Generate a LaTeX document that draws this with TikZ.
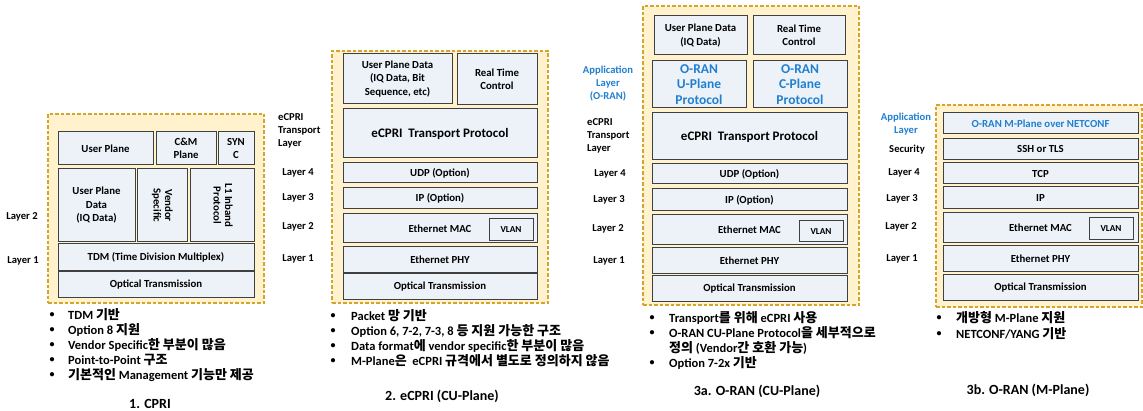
\documentclass[tikz,border=0pt]{standalone}
\usepackage{fontspec}
\usepackage{graphicx}
\setmainfont{Carlito}
\newfontfamily\kr{Noto Sans CJK KR}[Scale=1.04]
\newcommand{\K}[1]{{\kr #1}}
\definecolor{ybg}{HTML}{FFF2CC}
\definecolor{ybd}{HTML}{D4A52A}
\definecolor{bbg}{HTML}{EDF2F9}
\definecolor{bbd}{HTML}{404040}
\definecolor{oblue}{HTML}{1F7FD0}
\newcommand{\rb}[7][box]{\node[#1,minimum width={(#5-#3)*1pt},minimum height={(#6-#4)*1pt}] (#2) at ({(#3+#5)/2},{(#4+#6)/2}) {#7};}
\tikzset{
  frame/.style={draw=ybd, fill=ybg, dash pattern=on 3.5pt off 2pt, line width=1.2pt, inner sep=0, outer sep=0},
  box/.style={draw=bbd, fill=bbg, line width=1pt, inner sep=0, outer sep=0, align=center, font=\bfseries\fontsize{10.8}{13.5}\selectfont},
  bigbox/.style={box, font=\bfseries\fontsize{13}{15}\selectfont},
  blubox/.style={box, text=oblue, font=\bfseries\fontsize{13.5}{15.5}\selectfont},
  smallbox/.style={box, font=\bfseries\fontsize{9.2}{11}\selectfont},
  lbl/.style={font=\bfseries\fontsize{10.6}{13}\selectfont, align=center, inner sep=0},
  lbll/.style={lbl, align=left, anchor=west},
  blu/.style={lbl, text=oblue},
  bul/.style={anchor=west, inner sep=0, font=\bfseries\fontsize{12.5}{15}\selectfont, align=left},
  bdot/.style={inner sep=0, font=\bfseries\fontsize{10}{12}\selectfont},
  ttl/.style={inner sep=0, font=\bfseries\fontsize{14}{16}\selectfont}
}
\begin{document}
\begin{tikzpicture}[x=1pt,y=-1pt]
\useasboundingbox (0,0) rectangle (1143,411);
% ---------- Panel 1: CPRI
\rb[frame]{f1}{48}{114}{264}{303}{}
\rb{up1}{58}{132}{153}{165}{User Plane}
\rb{cm1}{156}{132}{216}{165}{C\&M\\Plane}
\rb{sy1}{218}{132}{254}{165}{SYN\\C}
\rb{upd1}{58}{169}{135}{242}{User Plane\\Data\\(IQ Data)}
\rb{vs1}{137}{169}{187}{242}{\rotatebox[origin=c]{-90}{\begin{tabular}{@{}c@{}}Vendor\\[-2pt]Specific\end{tabular}}}
\rb{l11}{190}{169}{254}{242}{\rotatebox[origin=c]{-90}{\begin{tabular}{@{}c@{}}L1 Inband\\[-2pt]Protocol\end{tabular}}}
\rb{tdm1}{58}{244}{254}{271}{TDM (Time Division Multiplex)}
\rb{opt1}{58}{272}{254}{298}{Optical Transmission}
\node[lbl] (l1a) at (22,217) {Layer 2};
\node[lbl] (l1b) at (23,261) {Layer 1};
\foreach \y/\t [count=\i] in {315/{TDM \K{기반}},330/{Option 8 \K{지원}},345/{Vendor Specific\K{한 부분이 많음}},360/{Point-to-Point \K{구조}},375/{\K{기본적인} Management \K{기능만 제공}}}{
  \node[bdot] (d1\i) at (52,\y) {•};
  \node[bul] (b1\i) at (68,\y) {\t};
}
\node[ttl] (t1) at (150,404) {1. CPRI};
% ---------- Panel 2: eCPRI
\rb[frame]{f2}{332}{51}{548}{303}{}
\rb{upd2}{343}{54}{452}{104}{User Plane Data\\(IQ Data, Bit\\Sequence, etc)}
\rb{rtc2}{457}{54}{537}{105}{Real Time\\Control}
\rb[bigbox]{ec2}{343}{109}{537}{158}{eCPRI\ \ Transport Protocol}
\rb{udp2}{343}{163}{537}{183}{UDP (Option)}
\rb{ip2}{343}{188}{537}{209}{IP (Option)}
\rb{mac2}{343}{214}{537}{243}{Ethernet MAC}
\rb[smallbox]{vl2}{489}{219}{533}{241}{VLAN}
\rb{phy2}{343}{247}{537}{273}{Ethernet PHY}
\rb{opt2}{343}{274}{537}{300}{Optical Transmission}
\node[lbll] (e2) at (278,131) {eCPRI\\Transport\\Layer};
\node[lbl] (l24) at (298,173) {Layer 4};
\node[lbl] (l23) at (298,198) {Layer 3};
\node[lbl] (l22) at (298,227) {Layer 2};
\node[lbl] (l21) at (298,259) {Layer 1};
\foreach \y/\t [count=\i] in {316/{Packet \K{망 기반}},331/{Option 6, 7-2, 7-3, 8 \K{등 지원 가능한 구조}},346/{Data format\K{에} vendor specific\K{한 부분이 많음}},361/{M-Plane\K{은}\ \ eCPRI \K{규격에서 별도로 정의하지 않음}}}{
  \node[bdot] (d2\i) at (333,\y) {•};
  \node[bul] (b2\i) at (351,\y) {\t};
}
\node[ttl] (t2) at (442,396) {2. eCPRI (CU-Plane)};
% ---------- Panel 3a: O-RAN CU-Plane
\rb[frame]{f3}{643}{6}{859}{305}{}
\rb{upd3}{654}{16}{747}{55}{User Plane Data\\(IQ Data)}
\rb{rtc3}{753}{16}{845}{55}{Real Time\\Control}
\rb[blubox]{uu3}{652}{61}{746}{108}{O-RAN\\U-Plane\\Protocol}
\rb[blubox]{cc3}{753}{61}{847}{108}{O-RAN\\C-Plane\\Protocol}
\rb[bigbox]{ec3}{652}{113}{847}{160}{eCPRI\ \ Transport Protocol}
\rb{udp3}{652}{164}{847}{184}{UDP (Option)}
\rb{ip3}{652}{189}{847}{211}{IP (Option)}
\rb{mac3}{652}{215}{847}{245}{Ethernet MAC}
\rb[smallbox]{vl3}{799}{221}{843}{242}{VLAN}
\rb{phy3}{652}{248}{847}{274}{Ethernet PHY}
\rb{opt3}{652}{276}{847}{302}{Optical Transmission}
\node[blu] (a3) at (608,84) {Application\\Layer\\(O-RAN)};
\node[lbll] (e3) at (587,136) {eCPRI\\Transport\\Layer};
\node[lbl] (l34) at (610,174) {Layer 4};
\node[lbl] (l33) at (609,200) {Layer 3};
\node[lbl] (l32) at (608,229) {Layer 2};
\node[lbl] (l31) at (609,261) {Layer 1};
\node[bdot] (d31) at (652,318) {•};
\node[bul] (b31) at (669,318) {Transport\K{를 위해} eCPRI \K{사용}};
\node[bdot] (d32) at (652,333) {•};
\node[bul] (b32) at (669,340.5) {O-RAN CU-Plane Protocol\K{을 세부적으로}\\\K{정의} (Vendor\K{간 호환 가능})};
\node[bdot] (d33) at (652,363) {•};
\node[bul] (b33) at (669,363) {Option 7-2x \K{기반}};
\node[ttl] (t3) at (757,391) {3a. O-RAN (CU-Plane)};
% ---------- Panel 3b: O-RAN M-Plane
\rb[frame]{f4}{936}{105}{1142}{307}{}
\rb[box,text=oblue]{mp4}{943}{113}{1138}{134}{O-RAN M-Plane over NETCONF}
\rb{ssh4}{943}{139}{1138}{160}{SSH or TLS}
\rb{tcp4}{943}{163}{1138}{184}{TCP}
\rb{ip4}{943}{187}{1138}{209}{IP}
\rb{mac4}{943}{213}{1138}{243}{Ethernet MAC}
\rb[smallbox]{vl4}{1089}{218}{1133}{240}{VLAN}
\rb{phy4}{943}{246}{1138}{272}{Ethernet PHY}
\rb{opt4}{943}{275}{1138}{301}{Optical Transmission}
\node[blu] (a4) at (906,124.5) {Application\\Layer};
\node[lbl] (s4) at (907,150) {Security};
\node[lbl] (l44) at (904,173) {Layer 4};
\node[lbl] (l43) at (902,199) {Layer 3};
\node[lbl] (l42) at (901,227) {Layer 2};
\node[lbl] (l41) at (902,259) {Layer 1};
\node[bdot] (d41) at (939,318) {•};
\node[bul] (b41) at (956,318) {\K{개방형} M-Plane \K{지원}};
\node[bdot] (d42) at (939,334) {•};
\node[bul] (b42) at (956,334) {NETCONF/YANG \K{기반}};
\node[ttl] (t4) at (1028,390) {3b. O-RAN (M-Plane)};
\end{tikzpicture}
\end{document}
